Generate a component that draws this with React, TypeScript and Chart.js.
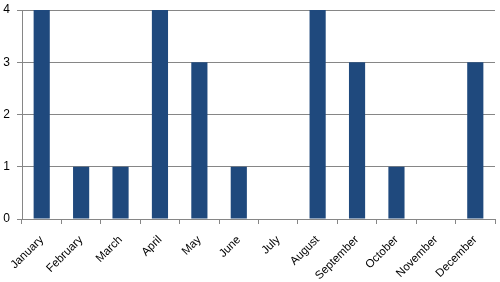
import React, { useEffect, useRef } from "react";
import { Chart, registerables } from "chart.js";

Chart.register(...registerables);

const categories = ["January", "February", "March", "April", "May", "June", "July", "August", "September", "October", "November", "December"];
const values = [4, 1, 1, 4, 3, 1, 0, 4, 3, 1, 0, 3];
const yTicks = [0, 1, 2, 3, 4];

export default function App() {
  const ref = useRef<HTMLCanvasElement | null>(null);
  useEffect(() => {
    if (!ref.current) return;
    const chart = new Chart(ref.current, {
      type: "bar",
      data: {
        labels: categories,
        datasets: [
          {
            data: values,
            backgroundColor: "#1F497D",
            borderColor: "#1F497D",
            borderWidth: 0,
            categoryPercentage: 1,
            barPercentage: 0.41,
          },
        ],
      },
      options: {
        responsive: false,
        animation: false,
        maintainAspectRatio: false,
        layout: { padding: { top: 10, right: 5, left: 0, bottom: 0 } },
        plugins: { legend: { display: false }, tooltip: { enabled: false } },
        scales: {
          x: {
            offset: true,
            grid: { display: true, offset: true, drawOnChartArea: false, drawTicks: true, tickLength: 5, color: "#868686" },
            border: { display: true, color: "#868686" },
            ticks: {
              maxRotation: 45,
              minRotation: 45,
              autoSkip: false,
              color: "#000",
              padding: 9,
              font: { family: "Liberation Sans, Arial, sans-serif", size: 11.5 },
            },
            afterFit: (s: any) => { s.height = 63; s.paddingTop = 0; s.paddingBottom = 0; },
          },
          y: {
            min: 0,
            max: 4,
            afterBuildTicks: (s: any) => { s.ticks = yTicks.map((v) => ({ value: v })); },
            grid: { color: "#868686", drawTicks: true, tickLength: 5 },
            border: { display: true, color: "#868686" },
            ticks: {
              color: "#000",
              padding: 7,
              font: { family: "Liberation Sans, Arial, sans-serif", size: 12 },
            },
            afterFit: (s: any) => { s.width = 22; s.paddingTop = 0; s.paddingBottom = 0; },
          },
        },
      },
    });
    return () => chart.destroy();
  }, []);
  return (
    <div style={{ position: "fixed", left: 0, top: 0, width: 500, height: 282, background: "#fff" }}>
      <canvas ref={ref} width={500} height={282} />
    </div>
  );
}
